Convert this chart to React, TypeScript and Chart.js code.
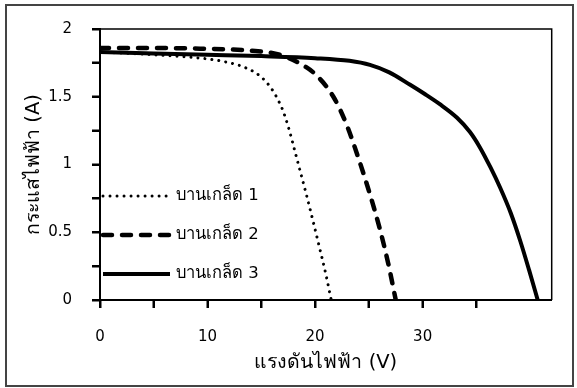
import React, { useEffect, useRef } from 'react';
import { Chart, registerables } from 'chart.js';

Chart.register(...registerables);

const seriesLabels = ['บานเกล็ด 1', 'บานเกล็ด 2', 'บานเกล็ด 3'];

const voltage1 = [0, 5, 9.9, 11.5, 13.0, 13.8, 14.4, 15.0, 15.5, 15.9, 16.3, 16.6, 16.9, 17.2, 17.5, 17.8, 18.1, 18.7, 19.2, 19.8, 20.4, 21.0, 21.5];
const current1 = [1.83, 1.81, 1.78, 1.76, 1.73, 1.705, 1.68, 1.645, 1.605, 1.565, 1.515, 1.47, 1.42, 1.355, 1.28, 1.195, 1.105, 0.925, 0.775, 0.585, 0.39, 0.19, 0];

const voltage2 = [0, 5, 9.3, 14, 16.7, 18.6, 20.1, 21.7, 22.9, 24.1, 25.1, 26.0, 26.8, 27.5];
const current2 = [1.86, 1.86, 1.855, 1.84, 1.81, 1.745, 1.66, 1.5, 1.3, 1.03, 0.78, 0.53, 0.27, 0];

const voltage3 = [0, 5, 10, 15, 20, 23.2, 25.1, 26.9, 28.8, 30.2, 31.6, 33.2, 34.4, 35.3, 36.3, 37.2, 38.2, 39.1, 39.9, 40.7];
const current3 = [1.83, 1.82, 1.81, 1.8, 1.785, 1.765, 1.735, 1.68, 1.59, 1.52, 1.445, 1.345, 1.24, 1.13, 0.98, 0.83, 0.64, 0.43, 0.22, 0];

const xTitle = 'แรงดันไฟฟ้า (V)';
const yTitle = 'กระแสไฟฟ้า (A)';
const xMin = 0;
const xMax = 42;
const xStep = 5;
const xLabelEvery = 10;
const yMin = 0;
const yMax = 2;
const yStep = 0.25;
const yLabelEvery = 0.5;

const FONT = '"DejaVu Sans", "Noto Sans", sans-serif';

const toPoints = (xs: number[], ys: number[]) => xs.map((x, i) => ({ x, y: ys[i] }));

const seriesStyles = [
  { width: 3, dash: [0.01, 7], cap: 'round' as CanvasLineCap },
  { width: 4.5, dash: [9, 10], cap: 'round' as CanvasLineCap },
  { width: 4, dash: [] as number[], cap: 'butt' as CanvasLineCap },
];

const TICK_LEN = 8;

const framePlugin = {
  id: 'frame',
  beforeDatasetsDraw(chart: any) {
    const { ctx, chartArea } = chart;
    ctx.save();
    ctx.strokeStyle = '#000';
    ctx.lineWidth = 1.5;
    ctx.beginPath();
    ctx.moveTo(chartArea.left, chartArea.top);
    ctx.lineTo(chartArea.right, chartArea.top);
    ctx.lineTo(chartArea.right, chartArea.bottom);
    ctx.stroke();
    ctx.lineWidth = 2;
    ctx.lineCap = 'butt';
    const xs = chart.scales.x;
    const ys = chart.scales.y;
    ctx.beginPath();
    xs.ticks.forEach((t: any) => {
      const px = Math.round(xs.getPixelForValue(t.value));
      ctx.moveTo(px, chartArea.bottom);
      ctx.lineTo(px, chartArea.bottom + TICK_LEN);
    });
    ys.ticks.forEach((t: any) => {
      const py = Math.round(ys.getPixelForValue(t.value));
      ctx.moveTo(chartArea.left, py);
      ctx.lineTo(chartArea.left - TICK_LEN, py);
    });
    ctx.stroke();
    ctx.restore();
  },
};

const legendPlugin = {
  id: 'innerLegend',
  afterDraw(chart: any) {
    const { ctx, chartArea } = chart;
    const offsets = [104, 65, 26];
    ctx.save();
    seriesLabels.forEach((label, i) => {
      const st = seriesStyles[i];
      const y = chartArea.bottom - offsets[i];
      const x0 = chartArea.left + 3;
      const x1 = chartArea.left + 70;
      ctx.strokeStyle = '#000';
      ctx.lineWidth = st.width;
      ctx.lineCap = st.cap;
      ctx.setLineDash(st.dash);
      ctx.beginPath();
      ctx.moveTo(x0, y);
      ctx.lineTo(x1, y);
      ctx.stroke();
      ctx.setLineDash([]);
      ctx.fillStyle = '#000';
      ctx.font = `16.5px ${FONT}`;
      ctx.textBaseline = 'middle';
      ctx.textAlign = 'left';
      ctx.fillText(label, chartArea.left + 76, y);
    });
    ctx.restore();
  },
};

export default function App() {
  const canvasRef = useRef<HTMLCanvasElement | null>(null);

  useEffect(() => {
    if (!canvasRef.current) return;
    const datasets = [
      toPoints(voltage1, current1),
      toPoints(voltage2, current2),
      toPoints(voltage3, current3),
    ].map((data, i) => ({
      label: seriesLabels[i],
      data,
      borderColor: '#000',
      backgroundColor: '#000',
      borderWidth: seriesStyles[i].width,
      borderDash: seriesStyles[i].dash,
      borderCapStyle: seriesStyles[i].cap,
      borderJoinStyle: 'round',
      pointRadius: 0,
      fill: false,
      cubicInterpolationMode: 'monotone' as const,
    }));

    const grid = {
      display: true,
      drawOnChartArea: false,
      drawTicks: true,
      tickLength: TICK_LEN,
      tickColor: '#000',
      tickWidth: 2,
    };

    const chart = new Chart(canvasRef.current, {
      type: 'line',
      data: { datasets },
      plugins: [framePlugin, legendPlugin],
      options: {
        animation: false,
        responsive: false,
        devicePixelRatio: 1,
        layout: { padding: { left: 0, right: 25.3, top: 25, bottom: 0 } },
        plugins: {
          legend: { display: false },
          tooltip: { enabled: false },
        },
        scales: {
          x: {
            type: 'linear',
            min: xMin,
            max: xMax,
            grid,
            border: { display: true, color: '#000', width: 2 },
            ticks: {
              stepSize: xStep,
              padding: 20,
              color: '#000',
              font: { family: FONT, size: 15 },
              maxRotation: 0,
              autoSkip: false,
              callback: (v: any) => (Math.abs(v % xLabelEvery) < 1e-9 ? String(v) : ''),
            },
            afterBuildTicks: (s: any) => {
              s.ticks = s.ticks.filter((t: any) => Math.abs(t.value / xStep - Math.round(t.value / xStep)) < 1e-9);
            },
            afterFit: (s: any) => {
              s.height = 88;
            },
            title: {
              display: true,
              text: xTitle,
              color: '#000',
              font: { family: FONT, size: 19.5 },
              padding: { top: 0, bottom: 13 },
            },
          },
          y: {
            type: 'linear',
            min: yMin,
            max: yMax,
            grid,
            border: { display: true, color: '#000', width: 2 },
            ticks: {
              stepSize: yStep,
              padding: 20,
              color: '#000',
              font: { family: FONT, size: 15 },
              autoSkip: false,
              callback: (v: any) => {
                const n = Number(v);
                return Math.abs(n / yLabelEvery - Math.round(n / yLabelEvery)) < 1e-9 ? String(n) : '';
              },
            },
            afterFit: (s: any) => {
              s.width = 100;
            },
            title: {
              display: true,
              text: yTitle,
              color: '#000',
              font: { family: FONT, size: 19.5 },
              padding: { top: 22, bottom: 0 },
            },
          },
        },
      },
    } as any);

    return () => chart.destroy();
  }, []);

  return (
    <div style={{ position: 'fixed', left: 0, top: 0, width: 577, height: 388, background: '#fff' }}>
      <canvas ref={canvasRef} width={577} height={388} style={{ position: 'absolute', left: 0, top: 0 }} />
      <div
        style={{
          position: 'absolute',
          left: 5,
          top: 4,
          width: 569,
          height: 383,
          boxSizing: 'border-box',
          border: '2px solid #444',
          pointerEvents: 'none',
        }}
      />
    </div>
  );
}
